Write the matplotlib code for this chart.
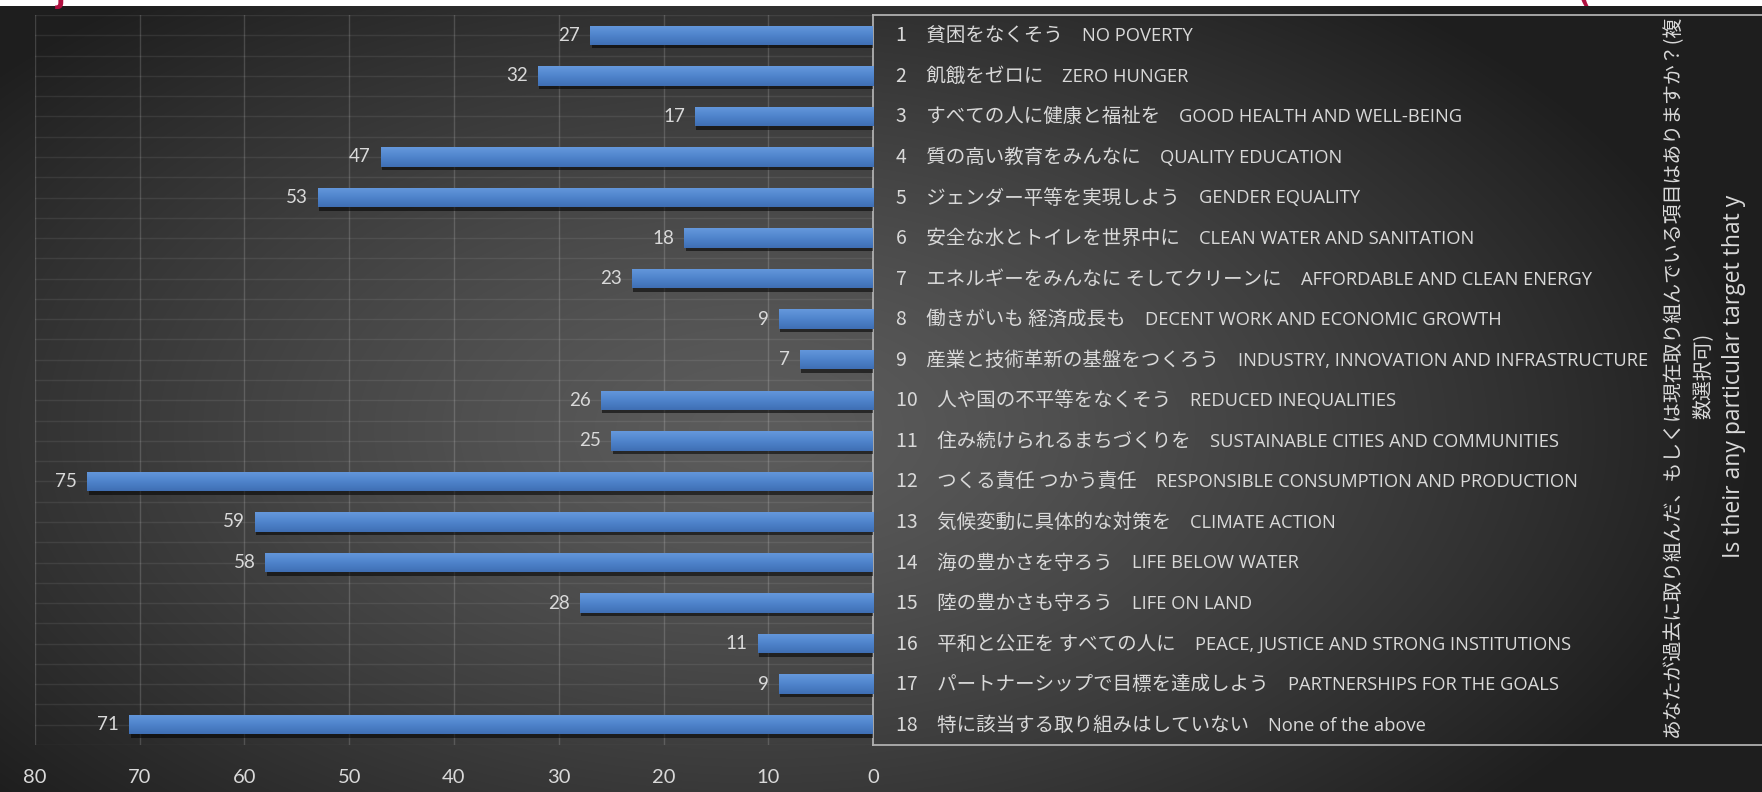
import numpy as np
import matplotlib
matplotlib.use("Agg")
import matplotlib.pyplot as plt
import matplotlib.patheffects as pe
from matplotlib.colors import LinearSegmentedColormap
from matplotlib.patches import Rectangle

# SDG survey: number of respondents per goal
goal_no = [1, 2, 3, 4, 5, 6, 7, 8, 9, 10, 11, 12, 13, 14, 15, 16, 17, 18]
goal_jp = [
    "貧困をなくそう", "飢餓をゼロに", "すべての人に健康と福祉を", "質の高い教育をみんなに",
    "ジェンダー平等を実現しよう", "安全な水とトイレを世界中に", "エネルギーをみんなに そしてクリーンに",
    "働きがいも 経済成長も", "産業と技術革新の基盤をつくろう", "人や国の不平等をなくそう",
    "住み続けられるまちづくりを", "つくる責任 つかう責任", "気候変動に具体的な対策を",
    "海の豊かさを守ろう", "陸の豊かさも守ろう", "平和と公正を すべての人に",
    "パートナーシップで目標を達成しよう", "特に該当する取り組みはしていない",
]
goal_en = [
    "NO POVERTY", "ZERO HUNGER", "GOOD HEALTH AND WELL-BEING", "QUALITY EDUCATION",
    "GENDER EQUALITY", "CLEAN WATER AND SANITATION", "AFFORDABLE AND CLEAN ENERGY",
    "DECENT WORK AND ECONOMIC GROWTH", "INDUSTRY, INNOVATION AND INFRASTRUCTURE",
    "REDUCED INEQUALITIES", "SUSTAINABLE CITIES AND COMMUNITIES",
    "RESPONSIBLE CONSUMPTION AND PRODUCTION", "CLIMATE ACTION", "LIFE BELOW WATER",
    "LIFE ON LAND", "PEACE, JUSTICE AND STRONG INSTITUTIONS", "PARTNERSHIPS FOR THE GOALS",
    "None of the above",
]
counts = [27, 32, 17, 47, 53, 18, 23, 9, 7, 26, 25, 75, 59, 58, 28, 11, 9, 71]
x_ticks = [0, 10, 20, 30, 40, 50, 60, 70, 80]

title_jp_1 = "あなたが過去に取り組んだ、もしくは現在取り組んでいる項目はありますか？(複"
title_jp_2 = "数選択可)"
title_en = "Is their any particular target that y"

JP = ["Noto Sans CJK JP", "DejaVu Sans"]
EN = ["Open Sans", "DejaVu Sans"]
NUM = ["Lato", "DejaVu Sans"]
TXT = "#d9d9d9"

W, H, DPI = 1762, 792, 100
fig = plt.figure(figsize=(W / DPI, H / DPI), dpi=DPI)

# dark radial background
bg = fig.add_axes([0, 0, 1, 1], zorder=-10)
yy, xx = np.mgrid[0:H, 0:W]
r = np.sqrt(((xx - 760) / 1000.0) ** 2 + ((yy - 430) / 560.0) ** 2)
r = np.clip(r, 0, 1)
shade = (0x5c + (0x1e - 0x5c) * r ** 1.3) / 255.0
bg.imshow(np.dstack([shade] * 3), aspect="auto", interpolation="bilinear")
bg.axis("off")

# thin white strip with clipped heading fragments along the top
fig.patches.append(Rectangle((0, 1 - 6 / H), 1, 6 / H, transform=fig.transFigure,
                             facecolor="white", edgecolor="none", zorder=-5))
fig.text(56 / W, 1 - 3 / H, "j", fontsize=20, color="#b01040", va="baseline", fontweight="bold")
fig.text(1578 / W, 1 - 3 / H, "(", fontsize=20, color="#b01040", va="baseline", fontweight="bold")

# plot area in pixels: x 35..873, y 15..745 (from top)
left, right, top, bottom = 35, 873, 15, 745
ax = fig.add_axes([left / W, 1 - bottom / H, (right - left) / W, (bottom - top) / H])
ax.set_facecolor("none")

ypos = np.arange(len(counts))
bar_h = 0.48
bars = ax.barh(ypos, counts, height=bar_h, color="#4f81bd", zorder=3,
               path_effects=[pe.SimplePatchShadow(offset=(1, -2.5), shadow_rgbFace="black", alpha=0.55),
                             pe.Normal()])

grad_cmap = LinearSegmentedColormap.from_list("bar", ["#6598dc", "#4f84cc", "#3f6fb4"])
grad = np.linspace(0, 1, 64).reshape(-1, 1)
for b, y, v in zip(bars, ypos, counts):
    im = ax.imshow(grad, extent=(0, v, y + bar_h / 2, y - bar_h / 2), origin="upper",
                   aspect="auto", cmap=grad_cmap, zorder=4)
    im.set_clip_path(b)
    ax.annotate(str(v), xy=(v, y), xytext=(-10, 0), textcoords="offset pixels",
                ha="right", va="center", color=TXT, fontsize=13.5, family=NUM, zorder=5)

ax.set_xlim(80, 0)
ax.set_ylim(len(counts) - 0.5, -0.5)
ax.set_xticks(x_ticks)
ax.set_yticks([])
ax.set_yticks(np.arange(-0.5, len(counts), 0.5), minor=True)
ax.grid(axis="x", color="white", alpha=0.16, lw=1)
ax.grid(axis="y", which="minor", color="white", alpha=0.08, lw=1)
ax.tick_params(axis="x", length=0, pad=17.5, labelsize=14.5, labelcolor=TXT)
ax.tick_params(axis="y", which="both", length=0)
for lab in ax.get_xticklabels():
    lab.set_family(NUM)
for s in ["top", "bottom", "left"]:
    ax.spines[s].set_visible(False)
ax.spines["right"].set_color("#b0b0b0")
ax.spines["right"].set_linewidth(1.3)

# category label box
for yy_ in (0, 1):
    ax.plot([1, W / (right - left)], [yy_, yy_], transform=ax.transAxes, clip_on=False,
            color="#b0b0b0", lw=1.3, zorder=6)

yt = ax.get_yaxis_transform()
jp_texts = []
for y, n, jp in zip(ypos, goal_no, goal_jp):
    t = ax.annotate(f"{n}\u3000{jp}", xy=(1, y), xycoords=yt, xytext=(23, -6),
                    textcoords="offset pixels", ha="left", va="baseline",
                    color=TXT, fontsize=14, family=JP)
    jp_texts.append(t)

fig.canvas.draw()
renderer = fig.canvas.get_renderer()
for t, y, en in zip(jp_texts, ypos, goal_en):
    x1 = t.get_window_extent(renderer).x1
    ax.annotate(en, xy=(1, y), xycoords=yt, xytext=(x1 - right + 19, -6),
                textcoords="offset pixels", ha="left", va="baseline",
                color=TXT, fontsize=13.2, family=EN)

# rotated axis title on the right
yc = 1 - 376 / H
fig.text(1673 / W, yc, title_jp_1, rotation=90, ha="center", va="center",
         color=TXT, fontsize=14.3, family=JP)
fig.text(1703 / W, yc, title_jp_2, rotation=90, ha="center", va="center",
         color=TXT, fontsize=14.3, family=JP)
fig.text(1734 / W, yc, title_en, rotation=90, ha="center", va="center",
         color=TXT, fontsize=16.5, family=EN)

fig.savefig("out.png", dpi=DPI)
